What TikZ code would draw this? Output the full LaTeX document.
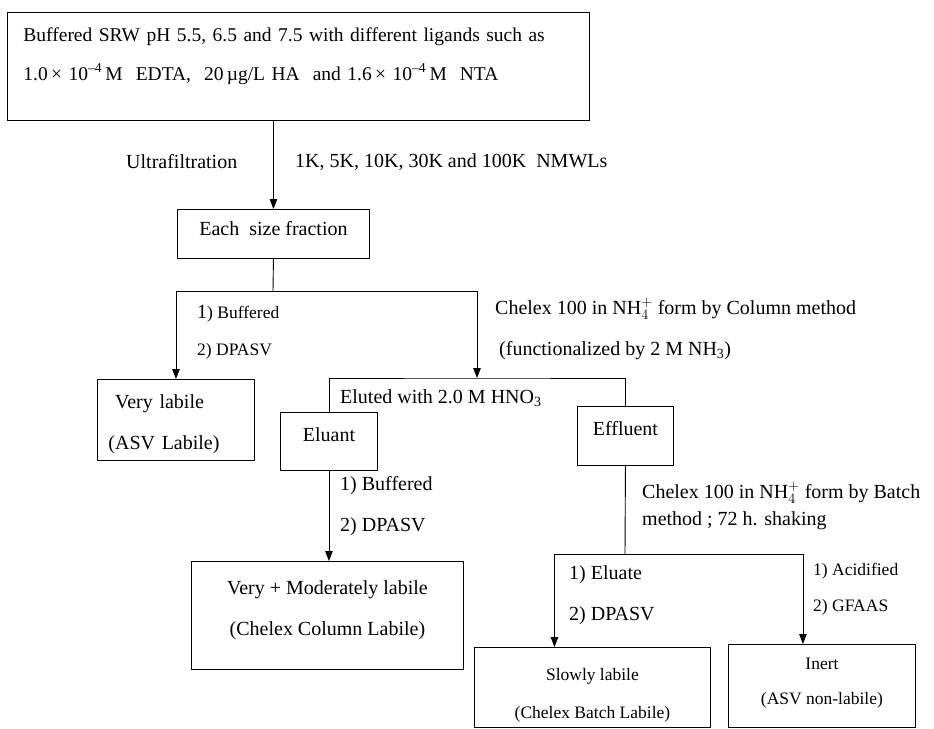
\documentclass[tikz,border=0pt]{standalone}
\usepackage{fontspec}
\setmainfont{Liberation Serif}
\usetikzlibrary{arrows.meta}

\begin{document}
\begin{tikzpicture}[
    x=1pt, y=-1pt,
    % Styles
    box/.style={
        draw,
        line width=0.9pt,
        anchor=north west,
        inner sep=0pt,
        align=center,
        font=\fontsize{20}{41}\selectfont
    },
    lbl/.style={
        anchor=west,
        inner sep=0pt,
        font=\fontsize{20}{24}\selectfont
    },
    small/.style={
        anchor=west,
        inner sep=0pt,
        font=\fontsize{17.5}{20}\selectfont
    },
    arrow/.style={-{Triangle[length=10pt,width=7.5pt]}, line width=0.9pt},
    link/.style={line width=0.9pt}
]
    \useasboundingbox (0,0) rectangle (934,728);

    % ---------------------------------------------------------
    % BOXES
    % ---------------------------------------------------------
    \node[box, align=left, text width=550pt, inner xsep=16pt, minimum height=108pt,
          font=\fontsize{19.5}{39}\selectfont] (sample) at (7,12)
        {Buffered SRW pH 5.5, 6.5 and 7.5 with different ligands such as\\
         1.0\,× 10\textsuperscript{–4}\,M\ \ EDTA,\ \ 20\,µg/L HA\ \ and 1.6\,× 10\textsuperscript{–4}\,M\ \ NTA\\[-26pt]\strut};
    \node[box, minimum width=192pt, minimum height=49pt, text depth=10pt] (fraction) at (177,209) {Each\ \ size fraction};
    \node[box, align=left, text width=135pt, inner xsep=11pt, minimum height=81pt] (vlabile) at (97,379)
        {\rule{0pt}{22pt}\ Very labile\\(ASV Labile)};
    \node[box, minimum width=97pt, minimum height=58pt, text depth=14pt] (eluant) at (280,412) {Eluant};
    \node[box, minimum width=96pt, minimum height=59pt, text depth=14pt] (effluent) at (577,406) {Effluent};
    \node[box, minimum width=272pt, minimum height=108pt] (vmod) at (191,561)
        {Very + Moderately labile\\(Chelex Column Labile)\\[-39pt]\strut};
    \node[box, minimum width=236pt, minimum height=80pt, font=\fontsize{17.5}{38}\selectfont] (slow) at (474,647)
        {\rule{0pt}{28pt}Slowly labile\\(Chelex Batch Labile)};
    \node[box, minimum width=187pt, minimum height=83pt, font=\fontsize{17.5}{35}\selectfont] (inert) at (728,644)
        {Inert\\(ASV non-labile)\\[-37pt]\strut};

    % ---------------------------------------------------------
    % JUNCTIONS
    % ---------------------------------------------------------
    \coordinate (split) at (273,291);
    \coordinate (elute) at (477,378);
    \coordinate (batch) at (625,554);

    % ---------------------------------------------------------
    % CONNECTIONS
    % ---------------------------------------------------------
    \draw[arrow] (sample.south -| fraction.north) -- (fraction.north);
    \draw[link] (fraction.south) -- (split);
    \draw[arrow] (split) -| (vlabile.north);
    \draw[arrow] (split) -| (elute);
    \draw[link] (eluant.north) |- (elute) -| (effluent.north);
    \draw[arrow] (eluant.south) -- (eluant.south |- vmod.north);
    \draw[link] (effluent.south) -- (batch);
    \draw[arrow] (batch) -| ([xshift=-38pt]slow.north);
    \draw[arrow] (batch) -| ([xshift=-19pt]inert.north);

    % ---------------------------------------------------------
    % LABELS
    % ---------------------------------------------------------
    \node[lbl] (ultra) at (126,162) {Ultrafiltration};
    \node[lbl] (nmwl) at (295,162) {1K, 5K, 10K, 30K and 100K\ \ NMWLs};
    \node[small] (bufa) at (197,314) {{\fontsize{20}{24}\selectfont 1}) Buffered};
    \node[small] (dpasva) at (197,351) {2) DPASV};
    \node[lbl] (column) at (495,309) {Chelex 100 in NH$_{4}^{+}$ form by Column method};
    \node[lbl] (func) at (499,351) {(functionalized by 2 M NH\textsubscript{3})};
    \node[lbl] (hno) at (340,398) {Eluted with 2.0 M HNO\textsubscript{3}};
    \node[lbl] (bufb) at (340,486) {1) Buffered};
    \node[lbl] (dpasvb) at (340,527) {2) DPASV};
    \node[lbl, align=left, font=\fontsize{20}{27}\selectfont] (batchlbl) at (642,506)
        {Chelex 100 in NH$_{4}^{+}$ form by Batch\\method ; 72 h. shaking};
    \node[lbl] (eluate) at (569,575) {1) Eluate};
    \node[lbl] (dpasvc) at (569,616) {2) DPASV};
    \node[small] (acid) at (813,571) {1) Acidified};
    \node[small] (gfaas) at (813,607) {2) GFAAS};

\end{tikzpicture}
\end{document}
